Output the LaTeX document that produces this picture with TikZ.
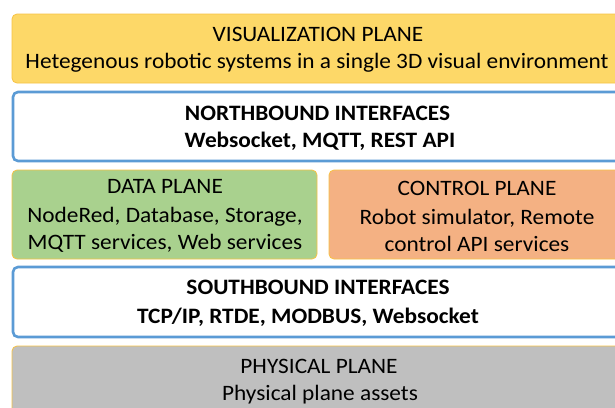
\documentclass[tikz,border=0pt]{standalone}
\usepackage{fontspec}
\setmainfont{Carlito}[FakeStretch=1.06]
\begin{document}
\begin{tikzpicture}[x=1pt,y=-1pt,
  layerbox/.style={rounded corners=5pt},
  yelbox/.style={layerbox,fill=visfill,draw=ylborder,line width=0.8pt},
  bluebox/.style={layerbox,fill=white,draw=ifborder,line width=2.6pt},
  txt/.style={anchor=base,inner sep=0pt,font=\fontsize{22}{26}\selectfont},
  btxt/.style={txt,font=\fontsize{22}{26}\selectfont\bfseries}]
\definecolor{visfill}{HTML}{FDD868}
\definecolor{ylborder}{HTML}{F7C244}
\definecolor{ifborder}{HTML}{5B9BD5}
\definecolor{datafill}{HTML}{A9D18E}
\definecolor{ctrlfill}{HTML}{F4B183}
\definecolor{physfill}{HTML}{BFBFBF}
\useasboundingbox (0,0) rectangle (615,407);
\clip (0,0) rectangle (615,407);
\fill[white] (0,0) rectangle (615,407);
% boxes
\draw[yelbox] (12,14) rectangle (626,83);
\draw[bluebox] (13,92) rectangle (626,161);
\draw[layerbox,fill=datafill,draw=ylborder,line width=0.8pt] (12,170) rectangle (317,259);
\draw[layerbox,fill=ctrlfill,draw=ylborder,line width=0.8pt] (329,170) rectangle (626,259);
\draw[bluebox] (13,267) rectangle (626,337);
\draw[layerbox,fill=physfill,draw=ylborder,line width=0.8pt] (12,346) rectangle (626,420);
% texts
\node[txt] (vis1) at (318,41) {VISUALIZATION PLANE};
\node[txt] (vis2) at (317,68) {Hetegenous robotic systems in a single 3D visual environment};
\node[btxt] (nb1) at (317.5,120) {NORTHBOUND INTERFACES};
\node[btxt] (nb2) at (320,147) {Websocket, MQTT, REST API};
\node[txt] (dp1) at (165,193) {DATA PLANE};
\node[txt] (dp2) at (165,222) {NodeRed, Database, Storage,};
\node[txt] (dp3) at (165,249) {MQTT services, Web services};
\node[txt] (cp1) at (477,195) {CONTROL PLANE};
\node[txt] (cp2) at (477,224) {Robot simulator, Remote};
\node[txt] (cp3) at (477,251) {control API services};
\node[btxt] (sb1) at (318,294) {SOUTHBOUND INTERFACES};
\node[btxt] (sb2) at (308,323) {TCP/IP, RTDE, MODBUS, Websocket};
\node[txt] (pp1) at (319,373) {PHYSICAL PLANE};
\node[txt] (pp2) at (320,400) {Physical plane assets};
\end{tikzpicture}
\end{document}
